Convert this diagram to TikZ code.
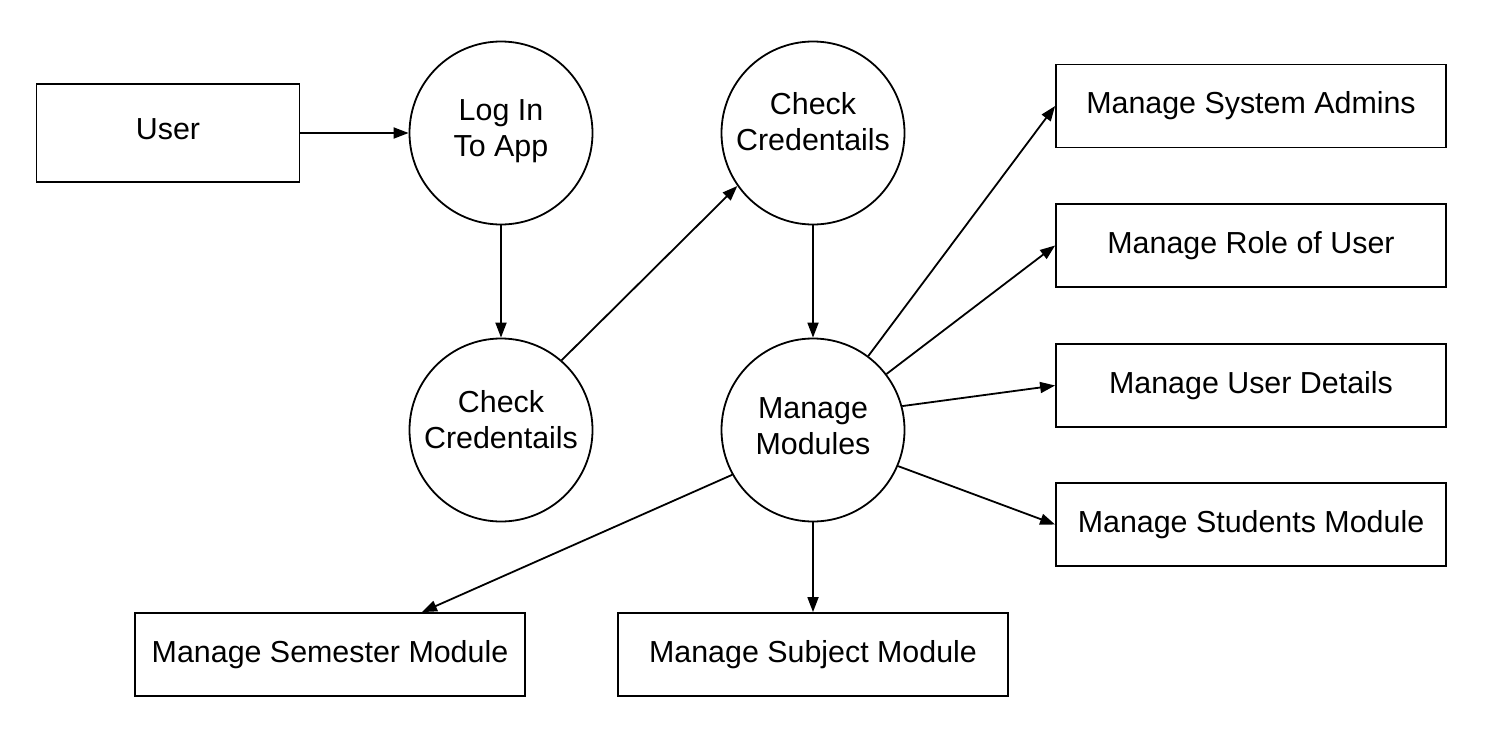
\documentclass[tikz,border=0pt]{standalone}
\usepackage{fontspec}
\setmainfont{Liberation Sans}
\usetikzlibrary{arrows.meta}
\begin{document}
\begin{tikzpicture}[x=1pt,y=-1pt,
  every node/.style={font=\fontsize{30.4}{36}\selectfont},
  proc/.style={draw,line width=1.8pt,circle,minimum size=183pt,inner sep=0pt,align=center},
  txt/.style={align=center,inner sep=0pt},
  ent/.style={draw,line width=1.8pt,rectangle,minimum width=390pt,minimum height=83pt,inner sep=0pt},
  flow/.style={line width=1.8pt,-{Triangle[length=15pt,width=11pt]}}]
\useasboundingbox (0,0) rectangle (1489,747);
\node[draw,line width=1.8pt,minimum width=263pt,minimum height=98pt,inner sep=0pt] (user) at (168,133) {};
\node[txt] (tuser) at (168,129) {User};
\node[proc] (login) at (501,133) {};
\node[proc] (chk1) at (501,430) {};
\node[proc] (chk2) at (813,133) {};
\node[proc] (mm) at (813,430) {};
\node[txt] (tlogin) at (501,131) {Log In\\To App};
\node[txt] (tchk1) at (501,420) {Check\\Credentails};
\node[txt] (tchk2) at (813,122) {Check\\Credentails};
\node[txt] (tmm) at (813,426) {Manage\\Modules};
\node[ent] (admins) at (1251,106) {Manage System Admins};
\node[ent] (role) at (1251,245.5) {Manage Role of User};
\node[ent] (details) at (1251,385.5) {Manage User Details};
\node[ent] (students) at (1251,524.5) {Manage Students Module};
\node[ent] (sem) at (330,654.5) {Manage Semester Module};
\node[ent] (subj) at (813,654.5) {Manage Subject Module};
\draw[flow] (user) -- (login);
\draw[flow] (login) -- (chk1);
\draw[flow] (chk1.49) -- (chk2.215);
\draw[flow] (chk2) -- (mm);
\draw[flow] (mm) -- (admins.west);
\draw[flow] (mm) -- (role.west);
\draw[flow] (mm.15) -- (details.west);
\draw[flow] (mm.-23) -- (students.west);
\draw[flow] (mm.209) -- ([xshift=92pt]sem.north);
\draw[flow] (mm) -- (subj);
\end{tikzpicture}
\end{document}
